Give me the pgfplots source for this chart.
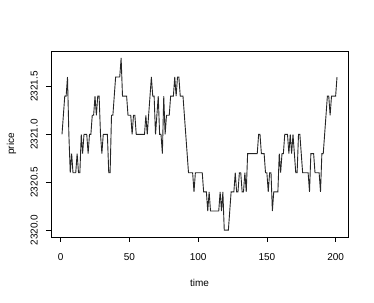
\documentclass[border=0pt]{standalone}
\usepackage{pgfplots}
\pgfplotsset{compat=1.18}
\usepackage{fontspec}
\setmainfont{Liberation Sans}
\begin{document}
\begin{tikzpicture}
\begin{axis}[
  scale only axis,
  width=297bp, height=186bp,
  xmin=-7, xmax=209,
  ymin=2319.928, ymax=2321.872,
  axis lines=box,
  axis line style={line width=0.7bp},
  tick align=outside,
  xtick pos=bottom, ytick pos=left,
  major tick length=5bp,
  tick style={line width=0.7bp, black},
  xtick={0,50,100,150,200},
  xticklabels={0,50,100,150,200},
  ytick={2320.0,2320.5,2321.0,2321.5},
  yticklabels={2320.0,2320.5,2321.0,2321.5},
  tick label style={font=\fontsize{10bp}{12bp}\selectfont},
  xticklabel style={anchor=north, inner sep=0pt, yshift=-11bp},
  yticklabel style={rotate=90, anchor=south, inner xsep=0pt, inner ysep=8bp},
  every axis x label/.style={at={([yshift=-46bp]axis description cs:0.5,0)}, anchor=center, font=\fontsize{10bp}{12bp}\selectfont},
  every axis y label/.style={at={([xshift=-39.5bp]axis description cs:0,0.5)}, anchor=center, rotate=90, font=\fontsize{10bp}{12bp}\selectfont},
  xlabel={time}, ylabel={price},
  clip=false,
]
\addplot[black!85, line width=0.9bp] table[x=t, y=p] {
t p
1 2321.0
2 2321.2
3 2321.4
4 2321.4
5 2321.6
6 2321.0
7 2320.6
8 2320.8
9 2320.6
10 2320.6
11 2320.6
12 2320.8
13 2320.6
14 2320.6
15 2321.0
16 2320.8
17 2321.0
18 2321.0
19 2321.0
20 2320.8
21 2321.0
22 2321.0
23 2321.2
24 2321.2
25 2321.4
26 2321.2
27 2321.4
28 2321.4
29 2321.0
30 2320.8
31 2321.0
32 2321.0
33 2321.0
34 2321.0
35 2320.6
36 2320.6
37 2321.2
38 2321.2
39 2321.4
40 2321.6
41 2321.6
42 2321.6
43 2321.6
44 2321.8
45 2321.4
46 2321.4
47 2321.4
48 2321.4
49 2321.2
50 2321.2
51 2321.2
52 2321.0
53 2321.2
54 2321.2
55 2321.0
56 2321.0
57 2321.0
58 2321.0
59 2321.0
60 2321.0
61 2321.0
62 2321.2
63 2321.0
64 2321.2
65 2321.4
66 2321.6
67 2321.4
68 2321.4
69 2321.0
70 2321.2
71 2321.4
72 2321.0
73 2321.0
74 2320.8
75 2321.4
76 2321.0
77 2321.2
78 2321.2
79 2321.2
80 2321.4
81 2321.4
82 2321.4
83 2321.6
84 2321.4
85 2321.6
86 2321.6
87 2321.4
88 2321.4
89 2321.4
90 2321.2
91 2321.0
92 2320.8
93 2320.6
94 2320.6
95 2320.6
96 2320.6
97 2320.4
98 2320.6
99 2320.6
100 2320.6
101 2320.6
102 2320.6
103 2320.6
104 2320.4
105 2320.4
106 2320.4
107 2320.2
108 2320.4
109 2320.2
110 2320.2
111 2320.2
112 2320.2
113 2320.2
114 2320.2
115 2320.2
116 2320.4
117 2320.2
118 2320.4
119 2320.0
120 2320.0
121 2320.0
122 2320.0
123 2320.2
124 2320.4
125 2320.4
126 2320.4
127 2320.6
128 2320.4
129 2320.4
130 2320.6
131 2320.6
132 2320.4
133 2320.4
134 2320.6
135 2320.4
136 2320.8
137 2320.8
138 2320.8
139 2320.8
140 2320.8
141 2320.8
142 2320.8
143 2320.8
144 2321.0
145 2321.0
146 2320.8
147 2320.8
148 2320.8
149 2320.6
150 2320.6
151 2320.4
152 2320.6
153 2320.6
154 2320.2
155 2320.4
156 2320.4
157 2320.4
158 2320.4
159 2320.8
160 2320.6
161 2320.8
162 2320.8
163 2321.0
164 2321.0
165 2321.0
166 2320.8
167 2321.0
168 2320.8
169 2321.0
170 2320.8
171 2320.6
172 2320.6
173 2321.0
174 2321.0
175 2320.8
176 2320.6
177 2320.6
178 2320.6
179 2320.6
180 2320.6
181 2320.4
182 2320.8
183 2320.8
184 2320.8
185 2320.6
186 2320.6
187 2320.6
188 2320.6
189 2320.4
190 2320.8
191 2320.8
192 2321.0
193 2321.2
194 2321.4
195 2321.4
196 2321.2
197 2321.4
198 2321.4
199 2321.4
200 2321.4
201 2321.6
};
\path ([xshift=-51bp,yshift=-66bp]rel axis cs:0,0) rectangle ([xshift=26bp,yshift=51bp]rel axis cs:1,1);
\end{axis}
\end{tikzpicture}
\end{document}
